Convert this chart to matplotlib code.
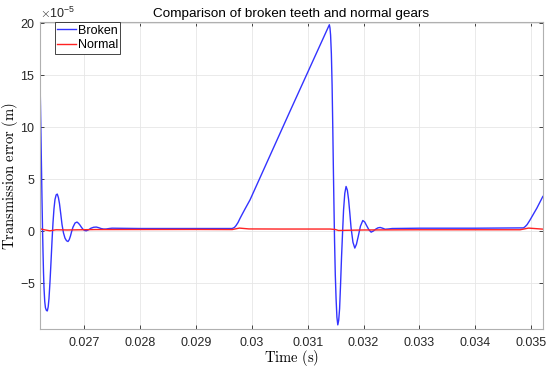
import numpy as np
import matplotlib.pyplot as plt
from matplotlib.ticker import ScalarFormatter

plt.rcParams.update({'font.family': ['Liberation Sans', 'DejaVu Sans'],
                     'font.size': 9,
                     'mathtext.fontset': 'cm',
                     'axes.unicode_minus': False})

SCALE = 1e-5

# time (s)
broken_t = [0.026213, 0.026222, 0.026231, 0.026240, 0.026249, 0.026258, 0.026267, 0.026276,
            0.026285, 0.026298, 0.026311, 0.026328, 0.026344, 0.026360, 0.026374, 0.026392,
            0.026410, 0.026428, 0.026446, 0.026463, 0.026481, 0.026502, 0.026522, 0.026542,
            0.026562, 0.026585, 0.026607, 0.026633, 0.026660, 0.026687, 0.026714, 0.026736,
            0.026758, 0.026780, 0.026803, 0.026840, 0.026875, 0.026902, 0.026928, 0.026955,
            0.026982, 0.027010, 0.027041, 0.027083, 0.027125, 0.027172, 0.027220, 0.027262,
            0.027304, 0.027349, 0.027394, 0.027450, 0.027501, 0.0280, 0.0290, 0.029650,
            0.029690, 0.029719, 0.029755, 0.029791, 0.029835, 0.029880, 0.029970, 0.030685,
            0.031388, 0.031399, 0.031410, 0.031424, 0.031437, 0.031449, 0.031460, 0.031471,
            0.031481, 0.031494, 0.031508, 0.031523, 0.031539, 0.031555, 0.031571, 0.031588,
            0.031606, 0.031624, 0.031642, 0.031664, 0.031687, 0.031710, 0.031732, 0.031754,
            0.031776, 0.031810, 0.031843, 0.031872, 0.031902, 0.031944, 0.031986, 0.032020,
            0.032054, 0.032095, 0.032135, 0.032175, 0.032215, 0.032255, 0.032296, 0.032340,
            0.032385, 0.032450, 0.032510, 0.0330, 0.0340, 0.034859, 0.034890, 0.034925,
            0.034979, 0.035040, 0.035099, 0.035206]
# transmission error (x1e-5 m)
broken_e = [14.6, 12.0, 9.0, 6.0, 3.0, 0.3, -2.0, -4.0,
            -5.5, -6.8, -7.4, -7.65, -7.7, -7.3, -6.5, -4.9,
            -3.0, -1.0, 0.8, 2.1, 3.0, 3.45, 3.53, 3.2,
            2.6, 1.6, 0.6, -0.2, -0.7, -0.95, -1.03, -0.85,
            -0.5, -0.05, 0.35, 0.75, 0.84, 0.72, 0.55, 0.33,
            0.15, 0.03, 0.0, 0.1, 0.25, 0.34, 0.36, 0.3,
            0.22, 0.17, 0.17, 0.22, 0.25, 0.22, 0.22, 0.22,
            0.32, 0.5, 0.8, 1.2, 1.65, 2.1, 2.98, 11.5,
            19.8, 19.5, 18.8, 17.0, 14.0, 10.0, 5.9, 2.2,
            -1.0, -4.2, -6.5, -8.3, -9.04, -8.6, -7.5, -5.2,
            -2.5, -0.2, 2.0, 3.6, 4.26, 3.9, 3.0, 1.7,
            0.3, -1.1, -1.66, -1.3, -0.6, 0.45, 0.99, 0.85,
            0.5, 0.1, -0.13, -0.02, 0.15, 0.28, 0.32, 0.25,
            0.15, 0.18, 0.22, 0.25, 0.25, 0.28, 0.4, 0.6,
            1.06, 1.63, 2.18, 3.3]

normal_t = [0.026213, 0.026290, 0.026390, 0.026500, 0.026700, 0.027200, 0.0290, 0.029650,
            0.029780, 0.029950, 0.0305, 0.0314, 0.031500, 0.031550, 0.031700, 0.032000,
            0.0330, 0.0348, 0.034950, 0.035206]
normal_e = [0.19, 0.1, 0.0, 0.1, 0.08, 0.12, 0.13, 0.12,
            0.26, 0.18, 0.17, 0.17, 0.12, 0.03, 0.05, 0.08,
            0.1, 0.1, 0.26, 0.16]

x_ticks = [0.027, 0.028, 0.029, 0.03, 0.031, 0.032, 0.033, 0.034, 0.035]
x_ticklabels = ['0.027', '0.028', '0.029', '0.03', '0.031', '0.032', '0.033', '0.034', '0.035']
y_ticks = [-5, 0, 5, 10, 15, 20]


def main():
    fig = plt.figure(figsize=(5.5, 3.69), dpi=100)
    ax = fig.add_axes([0.0727, 0.108, 0.9143, 0.832])

    ax.plot(broken_t, np.array(broken_e) * SCALE, color='#3333ff', lw=1.0, label='Broken')
    ax.plot(normal_t, np.array(normal_e) * SCALE, color='#ff2222', lw=1.0, label='Normal')

    ax.set_xlim(0.026213, 0.035206)
    ax.set_ylim(-9.45e-5, 20.05e-5)
    ax.set_xticks(x_ticks)
    ax.set_xticklabels(x_ticklabels)
    ax.set_yticks(np.array(y_ticks) * SCALE)

    fmt = ScalarFormatter(useMathText=True)
    fmt.set_powerlimits((-5, -5))
    ax.yaxis.set_major_formatter(fmt)

    ax.grid(True, color='#e6e6e6', lw=0.6)
    ax.set_axisbelow(True)
    for sp in ax.spines.values():
        sp.set_color('#b0b0b0')
        sp.set_linewidth(0.8)
    ax.tick_params(direction='in', top=True, right=True, colors='#262626',
                   length=3, width=0.6, labelsize=9, pad=3)
    ax.tick_params(axis='x', pad=6)

    ax.set_title('Comparison of broken teeth and normal gears', fontsize=9.7, pad=4)
    ax.set_xlabel(r'$\mathrm{Time\ (s)}$', fontsize=10.5, labelpad=-1)
    ax.set_ylabel(r'$\mathrm{Transmission\ error\ (m)}$', fontsize=10.5, labelpad=0)

    leg = ax.legend(loc='upper left', bbox_to_anchor=(0.029, 1.0), fontsize=9,
                    handlelength=1.5, handletextpad=0.15, borderpad=0.2,
                    labelspacing=0.2, borderaxespad=0.0, fancybox=False, framealpha=1)
    leg.get_frame().set_edgecolor('#262626')
    leg.get_frame().set_linewidth(0.6)

    plt.savefig('out.png', dpi=100)


if __name__ == '__main__':
    main()
